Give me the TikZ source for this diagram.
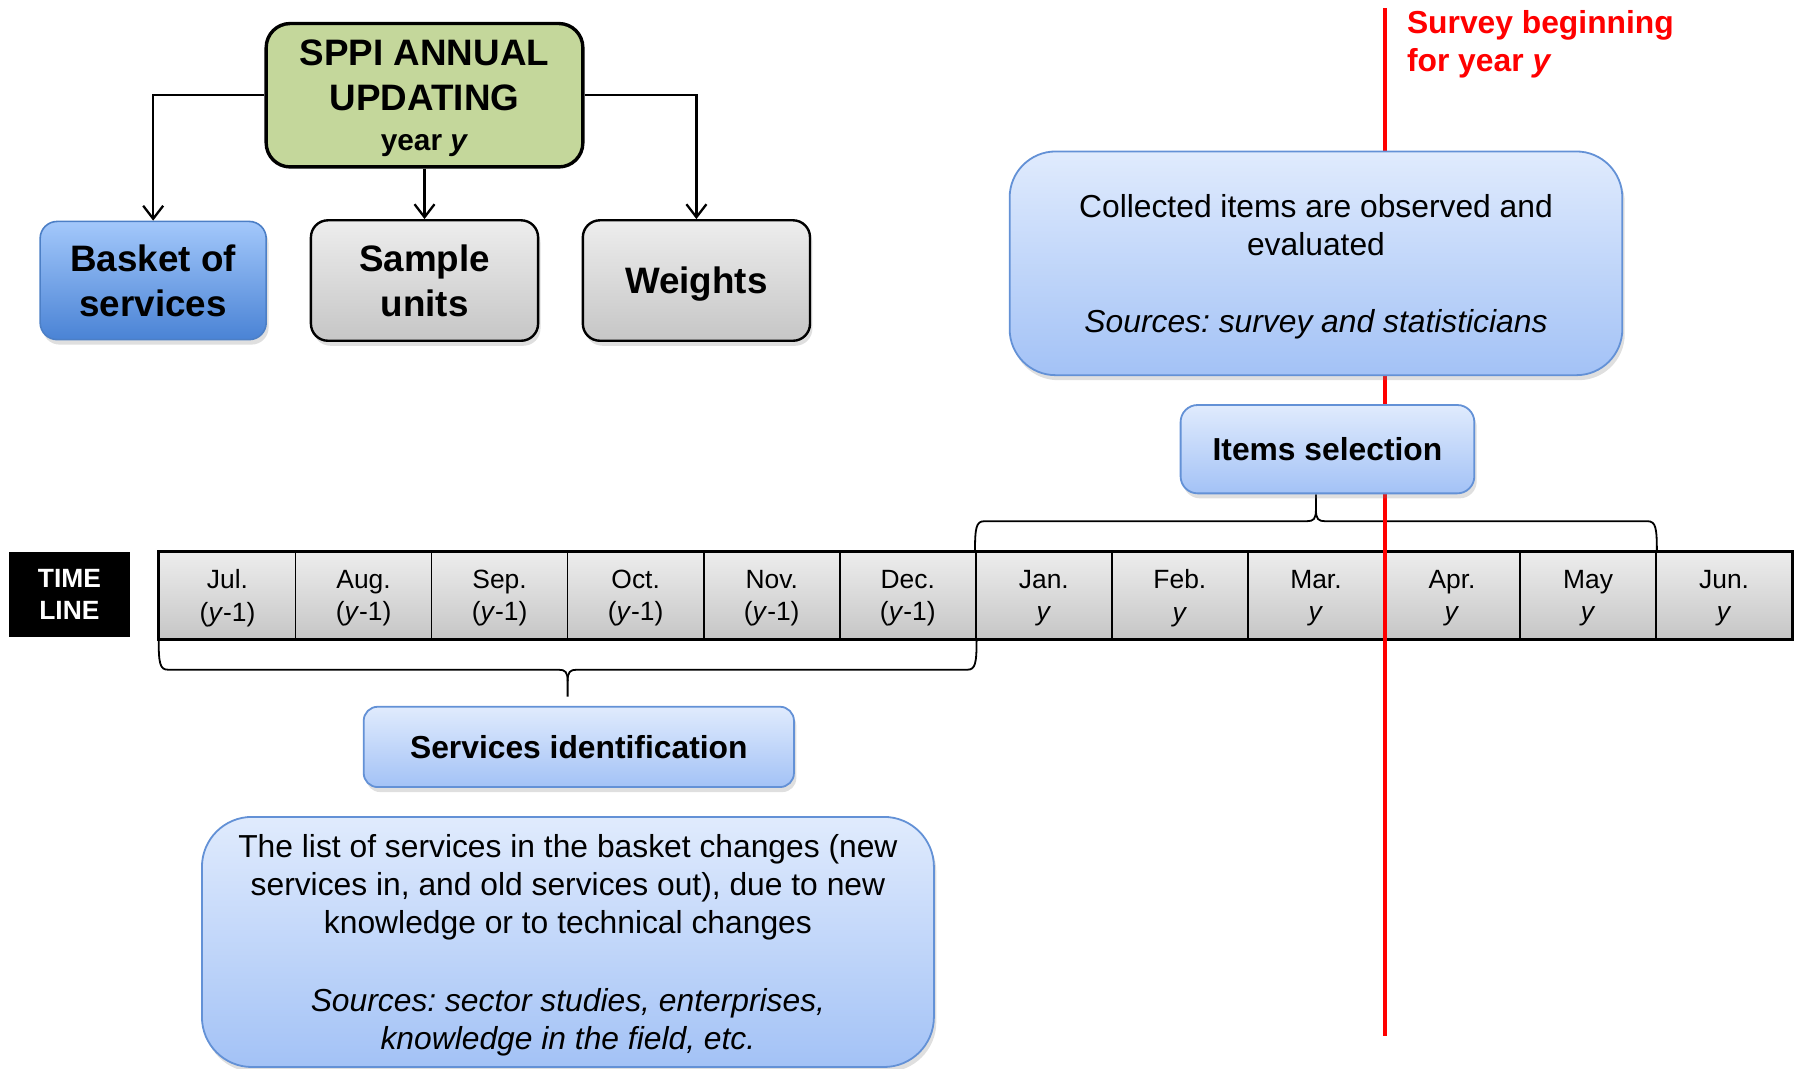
\documentclass[tikz,border=0pt]{standalone}
\usepackage{fontspec}
\setmainfont{Liberation Sans}
\usetikzlibrary{arrows.meta,shadows,calc}
\newdimen\U \U=0.5737pt
\definecolor{sgreen}{HTML}{C4D79B}
\definecolor{gtop}{HTML}{EDEDED}
\definecolor{gbot}{HTML}{C6C6C6}
\definecolor{lbtop}{HTML}{E0EBFD}
\definecolor{lbbot}{HTML}{A3C2F6}
\definecolor{lbdraw}{HTML}{6391D6}
\definecolor{btop}{HTML}{A3C8FB}
\definecolor{bbot}{HTML}{4A83D5}
\definecolor{bdraw}{HTML}{4C7FC6}
\definecolor{sred}{HTML}{FF0000}
\newcommand\szBig{\fontsize{18.4pt}{22.4pt}\selectfont\bfseries}
\newcommand\szMed{\fontsize{15.9pt}{18.9pt}\selectfont}
\newcommand\szSm{\fontsize{13.2pt}{16.1pt}\selectfont}
\newcommand\szYear{\fontsize{14.9pt}{18pt}\selectfont\bfseries}
\frenchspacing
\pgfdeclarelayer{Lone}
\pgfdeclarelayer{Ltwo}
\pgfsetlayers{Lone,Ltwo,main}
\begin{document}
\begin{tikzpicture}[x=0.5737pt,y=-0.5737pt,
  box/.style={inner sep=0pt, align=center, text depth=0pt},
  shad/.style={drop shadow={opacity=0.25, shadow xshift=1.2pt, shadow yshift=-2.5pt}},
  graybox/.style={box, shad, draw=black, line width=1.2pt, rounded corners=8.5pt,
     top color=gtop, bottom color=gbot, minimum width=198*\U, minimum height=105*\U, font=\szBig},
  lbbox/.style={box, shad, draw=lbdraw, line width=0.9pt, top color=lbtop, bottom color=lbbot},
  cell/.style={box, draw=black, line width=0.8pt, top color=gtop, bottom color=gbot,
     minimum width=118.58*\U, minimum height=76*\U, font=\szSm},
  arr/.style={line width=1.15pt, -{Straight Barb[length=6.5pt,width=10pt]}},
  bracepath/.style={line width=0.9pt}
]
\useasboundingbox (0,0) rectangle (1568,931);

% ---- top: SPPI annual updating
\node[box, draw=black, line width=1.7pt, rounded corners=12pt, fill=sgreen,
      minimum width=276*\U, minimum height=125*\U, font=\szBig]
  (sppi) at (370,83) {SPPI ANNUAL\\UPDATING\\[-2pt]{\szYear year \textit{y}}};

\node[box, shad, draw=bdraw, line width=0.8pt, rounded corners=8.5pt, top color=btop, bottom color=bbot,
      minimum width=197*\U, minimum height=103*\U, font=\szBig]
  (basket) at (133.5,244.5) {Basket of\\services};
\node[graybox] (sample) at (370,244.5) {Sample\\units};
\node[graybox] (weights) at (607,244.5) {Weights};

\draw[arr] (sppi.west) -| (basket.north);
\draw[arr] (sppi.east) -| (weights.north);
\draw[arr] (sppi.south) -- (sample.north);

% ---- time line
\node[box, fill=black, text=white, minimum width=105*\U, minimum height=74*\U, font=\szSm\bfseries]
  (tl) at (60.5,518) {TIME\\LINE};

\begin{pgfonlayer}{Lone}
\foreach [count=\i] \m/\yy in {Jul./{(\textit{y}-1)},Aug./{(\textit{y}-1)},Sep./{(\textit{y}-1)},
   Oct./{(\textit{y}-1)},Nov./{(\textit{y}-1)},Dec./{(\textit{y}-1)},Jan./\textit{y},Feb./\textit{y},
   Mar./\textit{y},Apr./\textit{y},May/\textit{y},Jun./\textit{y}}
  \node[cell] (m\i) at ({139+118.583*(\i-0.5)},519) {\m\\\yy};
\draw[line width=1.3pt] (m1.north west) rectangle (m12.south east);
\end{pgfonlayer}

% ---- red line
\begin{pgfonlayer}{Ltwo}
\coordinate (rtop) at (1207,7);
\coordinate (rbot) at (1207,903);
\draw[sred, line width=4*\U] (rtop) -- (rbot);
\end{pgfonlayer}
\node[anchor=north west, inner sep=0pt, align=left, text=sred, font=\szMed\bfseries]
  (survey) at (1226,9) {Survey beginning\\for year \textit{y}};

% ---- right boxes
\node[lbbox, rounded corners=23pt, minimum width=534*\U, minimum height=195*\U, font=\szMed]
  (collected) at (1147,229.5) {Collected items are observed and\\evaluated\\[19.5pt]\textit{Sources: survey and statisticians}};
\node[lbbox, rounded corners=8.5pt, minimum width=256*\U, minimum height=77*\U, font=\szMed\bfseries]
  (items) at (1157,391.5) {Items selection};

% ---- bottom boxes
\node[lbbox, rounded corners=7pt, minimum width=375*\U, minimum height=70*\U, font=\szMed\bfseries]
  (services) at (504.5,651) {Services identification};
\node[lbbox, rounded corners=25pt, minimum width=638*\U, minimum height=218*\U, font=\szMed]
  (list) at (495,821) {The list of services in the basket changes (new\\services in, and old services out), due to new\\knowledge or to technical changes\\[20pt]
  \textit{Sources: sector studies, enterprises,}\\\textit{knowledge in the field, etc.}};

% ---- braces
\begin{pgfonlayer}{Lone}
\coordinate (tbl) at (m7.north west);
\coordinate (tbr) at (m11.north east);
\coordinate (tbm) at ($(tbl)!0.5!(tbr)$);
\draw[bracepath] (tbl) .. controls ($(tbl)+(0,-20)$) and ($(tbl)+(1,-26)$) .. ($(tbl)+(8,-26)$)
   -- ($(tbm)+(-8,-26)$) .. controls ($(tbm)+(-2,-26)$) and ($(tbm)+(0,-28)$) .. ($(tbm)+(0,-36)$)
   -- (tbm |- items.south);
\draw[bracepath] (tbr) .. controls ($(tbr)+(0,-20)$) and ($(tbr)+(-1,-26)$) .. ($(tbr)+(-8,-26)$)
   -- ($(tbm)+(8,-26)$) .. controls ($(tbm)+(2,-26)$) and ($(tbm)+(0,-28)$) .. ($(tbm)+(0,-36)$);

\coordinate (bbl) at (m1.south west);
\coordinate (bbr) at (m6.south east);
\coordinate (bbm) at ($(bbl)!0.5!(bbr)$);
\coordinate (bbt) at ($(bbm |- services.north)+(0,-8)$);
\draw[bracepath] (bbl) .. controls ($(bbl)+(0,20)$) and ($(bbl)+(1,26)$) .. ($(bbl)+(8,26)$)
   -- ($(bbm)+(-8,26)$) .. controls ($(bbm)+(-2,26)$) and ($(bbm)+(0,28)$) .. ($(bbm)+(0,36)$)
   -- (bbt);
\draw[bracepath] (bbr) .. controls ($(bbr)+(0,20)$) and ($(bbr)+(-1,26)$) .. ($(bbr)+(-8,26)$)
   -- ($(bbm)+(8,26)$) .. controls ($(bbm)+(2,26)$) and ($(bbm)+(0,28)$) .. ($(bbm)+(0,36)$);
\end{pgfonlayer}
\end{tikzpicture}
\end{document}
